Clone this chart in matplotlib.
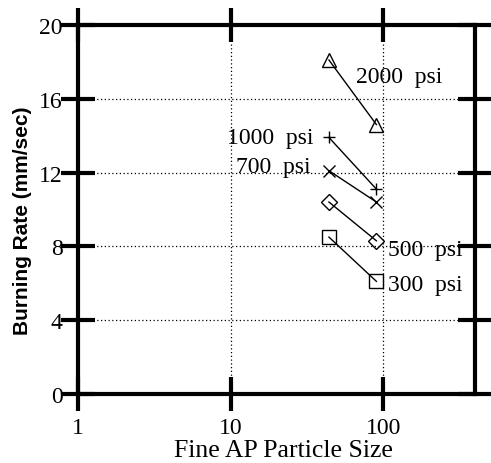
import matplotlib
matplotlib.use("Agg")
import matplotlib.pyplot as plt

# fine AP particle size (microns) and burning rate (mm/sec) per pressure
sizes = [44, 90]
rate_2000 = [18.1, 14.6]
rate_1000 = [13.9, 11.1]
rate_700 = [12.1, 10.4]
rate_500 = [10.4, 8.3]
rate_300 = [8.5, 6.1]

series = [
    (rate_2000, '^', 10),
    (rate_1000, '+', 9),
    (rate_700, 'x', 9),
    (rate_500, 'D', 8),
    (rate_300, 's', 10),
]

# label text, x, y, alignment
labels = [
    ("2000  psi", 66, 17.2, 'left'),
    ("1000  psi", 35, 13.9, 'right'),
    ("700  psi", 33.5, 12.35, 'right'),
    ("500  psi", 108, 7.85, 'left'),
    ("300  psi", 108, 5.95, 'left'),
]

serif = ['Liberation Serif', 'DejaVu Serif']

fig = plt.figure(figsize=(4.91, 4.64), dpi=100)
ax = fig.add_axes([0.159, 0.149, 0.809, 0.795])

for rates, mk, ms in series:
    ax.plot(sizes, rates, color='black', lw=1.0, marker=mk, ms=ms,
            mfc='none', mec='black', mew=1.0)

ax.set_xscale('log')
ax.set_xlim(1, 400)
ax.set_ylim(0, 20)
ax.set_xticks([1, 10, 100])
ax.set_xticklabels(['1', '10', '100'])
ax.set_yticks([0, 4, 8, 12, 16, 20])
ax.minorticks_off()

ax.grid(True, ls=(0, (1, 2)), color='black', lw=0.9)
for s in ax.spines.values():
    s.set_linewidth(3)
ax.tick_params(which='major', direction='inout', length=24, width=3,
               top=True, right=True, labelsize=17)
ax.tick_params(axis='y', pad=-1)
ax.tick_params(axis='x', pad=5)
for lab in ax.get_xticklabels() + ax.get_yticklabels():
    lab.set_family(serif)

for txt, x, y, ha in labels:
    ax.text(x, y, txt, fontsize=17, family=serif, va='center', ha=ha)

ax.set_xlabel("Fine AP Particle Size", fontsize=18.5, family=serif)
ax.xaxis.set_label_coords(0.516, -0.122)
ax.set_ylabel("Burning Rate (mm/sec)", fontsize=15, weight='bold',
              family=['Liberation Sans', 'DejaVu Sans'])
ax.yaxis.set_label_coords(-0.115, 0.472)

fig.savefig("out.png", dpi=100)
